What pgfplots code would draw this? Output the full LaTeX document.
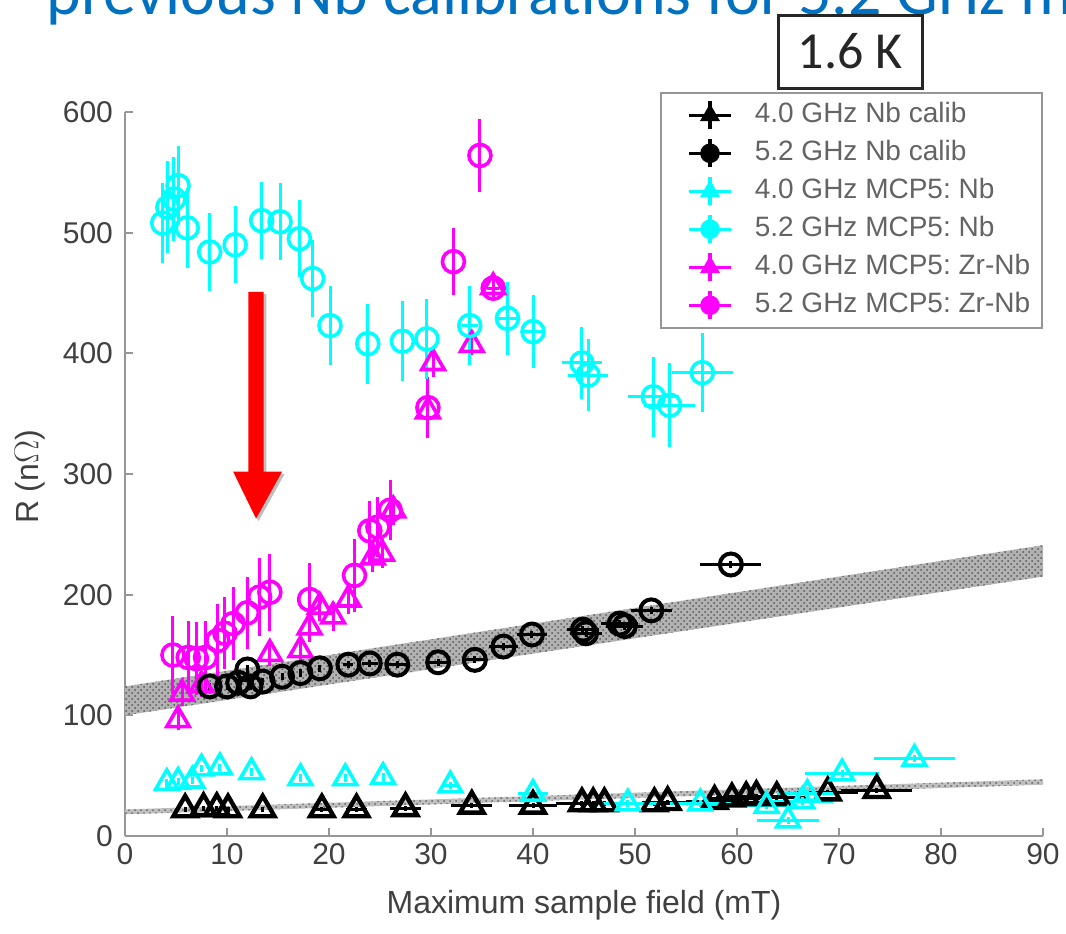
\documentclass[border=0pt]{standalone}
\usepackage{pgfplots}
\pgfplotsset{compat=1.18}
\usepackage{fontspec}
\setmainfont{Liberation Sans}
\newfontfamily\titlefont{Carlito}
\usetikzlibrary{patterns}
\definecolor{titleblue}{RGB}{0,112,192}
\definecolor{cy}{RGB}{0,255,255}
\definecolor{mg}{RGB}{255,0,255}
\definecolor{axgray}{RGB}{150,150,150}
\definecolor{tickgray}{RGB}{64,64,64}
\definecolor{leggray}{RGB}{100,100,100}
\begin{document}
\begin{tikzpicture}
% clipped title strip
\begin{scope}
\clip (0pt,0pt) rectangle (533pt,-466.5pt);
\node[anchor=base west, inner sep=0pt, text=titleblue,
  font=\titlefont\fontsize{33}{36}\selectfont] at (23pt,-7pt)
  {previous Nb calibrations for 5.2 GHz measurements};
\end{scope}
\begin{axis}[
  at={(62.5pt,-418pt)}, anchor=south west,
  scale only axis, width=459pt, height=362pt,
  xmin=0, xmax=90, ymin=0, ymax=600,
  xtick={0,10,...,90}, ytick={0,100,...,600},
  axis lines*=left,
  axis line style={axgray, line width=1.2pt},
  tick style={axgray, line width=0.9pt},
  major tick length=4pt,
  tick align=inside,
  /pgf/number format/assume math mode=true,
  ticklabel style={font=\fontsize{15}{18}\selectfont, text=tickgray},
  yticklabel style={xshift=-2.5pt},
  xlabel={Maximum sample field (mT)},
  ylabel={R (n$\Omega$)},
  label style={font=\fontsize{16}{19}\selectfont, text=tickgray},
  x label style={at={(axis description cs:0.5,-0.095)}, anchor=center},
  y label style={at={(axis description cs:-0.1035,0.496)}, anchor=center},
  clip=false,
  legend style={at={(1,1)}, anchor=north east, yshift=10pt,
    draw=axgray, line width=0.8pt,
    font=\fontsize{14}{17}\selectfont, text=leggray,
    inner xsep=4pt, inner ysep=2.5pt, row sep=1.5pt,
    nodes={inner sep=2pt, text height=10.5pt, text depth=3pt}},
  legend cell align=left,
  legend image code/.code={%
    \path (-9.5pt,0pt) (30.5pt,0pt);
    \draw[#1, mark=none, line width=1.6pt] (0pt,0pt) -- (21pt,0pt);
    \draw[#1, mark=none, line width=1.6pt] (10.5pt,-7pt) -- (10.5pt,7pt);
    \draw[#1, only marks] plot coordinates {(10.5pt,0pt)};
  },
]
% fit bands
\addplot[forget plot, draw=none, fill=black!30,
  postaction={pattern=crosshatch dots, pattern color=black!65}]
  coordinates {(0,100) (90,215) (90,241) (0,124)} -- cycle;
\addplot[forget plot, draw=none, fill=black!25,
  postaction={pattern=crosshatch dots, pattern color=black!60}]
  coordinates {(0,18) (90,42.5) (90,47) (0,22)} -- cycle;

% 4.0 GHz MCP5: Zr-Nb (magenta triangles)
\addplot[forget plot, only marks, color=mg, mark=triangle, mark size=6.5pt,
  mark options={line width=1.8pt},
  error bars/.cd, x dir=both, x explicit, y dir=both, y explicit,
  error mark=none, error bar style={line width=1.5pt}]
  table[x=x, y=y, x error=ex, y error=ey] {
x y ex ey
5.2 96 0 8
5.6 118 0 10
7.5 125 0 10
14.2 151 0 10
17.2 154 0 10
18.1 173 0 12
19.1 190 0 12
20.4 182 0 12
21.9 196 0 12
24.3 231 0 12
25.2 234 0 12
26.3 270 0 12
29.7 352 0 12
30.2 392 0 12
34.0 407 0 8
36.1 455 0 8
};
% 5.2 GHz MCP5: Zr-Nb (magenta circles)
\addplot[forget plot, only marks, color=mg, mark=o, mark size=5.5pt,
  mark options={line width=1.8pt},
  error bars/.cd, x dir=both, x explicit, y dir=both, y explicit,
  error mark=none, error bar style={line width=1.5pt}]
  table[x=x, y=y, x error=ex, y error=ey] {
x y ex ey
4.7 150 0 32
6.2 148 0 30
7.0 147 0 30
7.9 148 0 30
9.1 162 0 30
9.8 168 0 30
10.6 176 0 30
12.0 185 0 30
13.2 198 0 32
14.2 202 0 32
18.1 196 0 30
22.5 216 0 30
24.0 253 0 25
24.8 256 0 25
26.0 270 0 25
29.7 355 0 25
32.2 476 0 28
34.8 564 0 30
36.1 454 0.6 5
};
% 4.0 GHz Nb calib (black triangles)
\addplot[forget plot, only marks, color=black, mark=triangle, mark size=6.8pt,
  mark options={line width=2.2pt},
  error bars/.cd, x dir=both, x explicit, y dir=both, y explicit,
  error mark=none, error bar style={line width=1.5pt}]
  table[x=x, y=y, x error=ex, y error=ey] {
x y ex ey
5.9 22 0 2
7.7 23 0 2
9.0 23 0 2
10.1 22 0 2
13.5 22 0 2
19.3 22 0.6 2
22.7 22 1 2
27.5 23 1.5 2
34.0 25 2 2
40.0 25 2.4 2
44.8 27 2.5 2
45.9 27 2.5 2
47.0 27 2.5 2
51.9 27 2.5 2
53.2 28 2.5 2
57.8 29 2.8 2
59.5 31 2.8 2
60.9 32 3 2
61.9 33 3 2
63.9 32 3 2
68.9 36 3 2
73.7 38 3.5 2
};
% 5.2 GHz Nb calib (black circles)
\addplot[forget plot, only marks, color=black, mark=o, mark size=5.5pt,
  mark options={line width=2pt},
  error bars/.cd, x dir=both, x explicit, y dir=both, y explicit,
  error mark=none, error bar style={line width=1.5pt}]
  table[x=x, y=y, x error=ex, y error=ey] {
x y ex ey
8.3 124 0 3
10.0 124 0 3
11.1 127 0 3
12.0 138 0 4
12.3 124 0 3
13.5 128 0 3
15.4 132 0 3
17.2 135 0 3
19.1 139 0 3
21.9 142 0.5 3
24.0 143 0.8 3
26.7 142 1 3
30.7 144 1 3
34.3 146 1.2 3
37.1 157 1.4 3
39.9 167 1.5 3
44.9 171 1.6 3
45.2 168 1.6 3
48.5 176 1.8 3
49.0 174 1.8 3
51.6 187 2 3
59.4 225 3 3
};
% 4.0 GHz MCP5: Nb (cyan triangles)
\addplot[forget plot, only marks, color=cy, mark=triangle, mark size=6.5pt,
  mark options={line width=1.8pt},
  error bars/.cd, x dir=both, x explicit, y dir=both, y explicit,
  error mark=none, error bar style={line width=1.5pt}]
  table[x=x, y=y, x error=ex, y error=ey] {
x y ex ey
4.1 44 0 3
5.2 45 0 3
6.6 46 0 3
7.5 56 0 3
9.3 57 0 3
12.4 53 0 3
17.2 48 0 3
21.6 48 0 3
25.3 49 0 3
31.9 42 0.8 3
40.0 35 1.5 3
49.3 27 3 3
56.4 27 3 3
62.9 25 3 3
65.0 13 3 3
66.4 29 3 3
66.9 35 3 3
70.3 52 3.6 3
77.4 64 4 3
};
% 5.2 GHz MCP5: Nb (cyan circles)
\addplot[forget plot, only marks, color=cy, mark=o, mark size=5.5pt,
  mark options={line width=1.8pt},
  error bars/.cd, x dir=both, x explicit, y dir=both, y explicit,
  error mark=none, error bar style={line width=1.5pt}]
  table[x=x, y=y, x error=ex, y error=ey] {
x y ex ey
3.7 508 0 33
4.2 521 0 38
4.8 528 0 35
5.2 539 0 33
6.1 504 0 33
8.3 484 0 32
10.8 490 0 32
13.4 510 0 32
15.2 509 0 32
17.1 495 0 32
18.4 462 0 32
20.1 423 0 33
23.8 408 0 33
27.2 410 0 33
29.6 412 0 33
33.8 423 0.8 33
37.5 429 1 30
40.0 418 1 30
44.8 392 2 30
45.4 382 2 30
51.8 364 2.5 33
53.4 357 2.5 35
56.6 384 3 33
};

% red arrow annotation
\fill[black!25] (axis cs:12.35,449) -- (axis cs:13.85,449) -- (axis cs:13.85,300)
  -- (axis cs:15.65,300) -- (axis cs:13.1,261) -- (axis cs:10.85,300)
  -- (axis cs:12.35,300) -- cycle;
\fill[red] (axis cs:12.1,451) -- (axis cs:13.6,451) -- (axis cs:13.6,302)
  -- (axis cs:15.4,302) -- (axis cs:12.85,263) -- (axis cs:10.6,302)
  -- (axis cs:12.1,302) -- cycle;

% legend
\addlegendimage{black, mark=triangle*, mark size=5pt}
\addlegendentry{4.0 GHz Nb calib}
\addlegendimage{black, mark=*, mark size=4.5pt}
\addlegendentry{5.2 GHz Nb calib}
\addlegendimage{cy, mark=triangle*, mark size=5pt}
\addlegendentry{4.0 GHz MCP5:\ Nb}
\addlegendimage{cy, mark=*, mark size=4.5pt}
\addlegendentry{5.2 GHz MCP5:\ Nb}
\addlegendimage{mg, mark=triangle*, mark size=5pt}
\addlegendentry{4.0 GHz MCP5:\ Zr-Nb}
\addlegendimage{mg, mark=*, mark size=4.5pt}
\addlegendentry{5.2 GHz MCP5:\ Zr-Nb}
\end{axis}
% temperature box
\node[draw=black!85, line width=1.5pt, minimum width=72pt,
  minimum height=36.5pt, inner sep=0pt,
  font=\titlefont\fontsize{26}{30}\selectfont, text=black!85]
  at (425pt,-25.75pt) {1.6 K};
\pgfresetboundingbox
\useasboundingbox (0pt,0pt) rectangle (533pt,-466.5pt);
\end{tikzpicture}
\end{document}
